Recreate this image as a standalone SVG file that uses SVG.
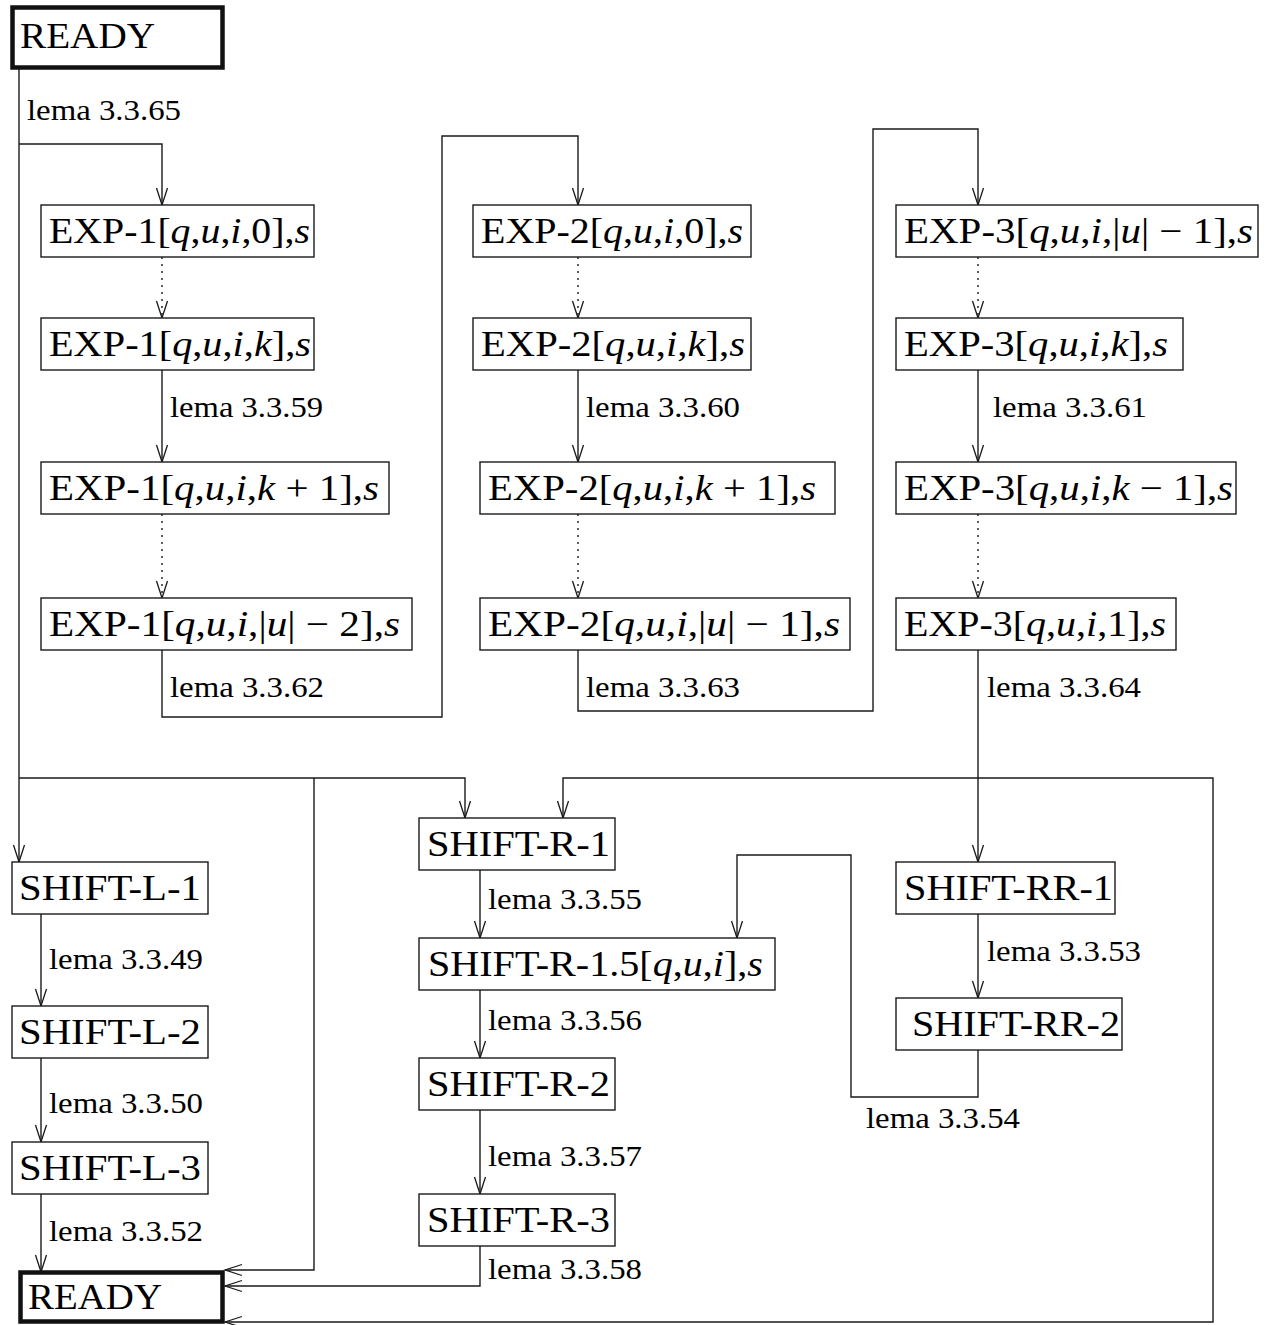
<svg xmlns="http://www.w3.org/2000/svg" width="1269" height="1325" viewBox="0 0 1269 1325">
  <style>
    .bg { fill: #ffffff; }
    .box { fill: #ffffff; stroke: #1a1a1a; stroke-width: 1.4; }
    .ready { fill: #ffffff; stroke: #111111; stroke-width: 4.5; }
    .node { font-family: "Liberation Serif", "DejaVu Serif", serif; font-size: 35px; fill: #000000; }
    .lbl { font-family: "Liberation Serif", "DejaVu Serif", serif; font-size: 29px; fill: #000000; }
    .m { font-style: italic; }
    .wire { fill: none; stroke: #1a1a1a; stroke-width: 1.4; }
    .dot { fill: none; stroke: #1a1a1a; stroke-width: 1.4; stroke-dasharray: 2 5; }
  </style>
  <defs>
    <marker id="arr" viewBox="-18 -7 20 14" markerWidth="20" markerHeight="14" refX="0" refY="0" orient="auto" markerUnits="userSpaceOnUse">
      <path d="M -17 -5.5 L 0 0 L -17 5.5" fill="none" stroke="#1a1a1a" stroke-width="1.3"/>
    </marker>
  </defs>
  <rect class="bg" x="0" y="0" width="1269" height="1325"/>

  <!-- connectors -->
  <g id="connectors">
    <!-- READY fan-out -->
    <path class="wire" d="M19 69 V862" marker-end="url(#arr)"/>
    <path class="wire" d="M19 144 H162 V205" marker-end="url(#arr)"/>
    <path class="wire" d="M19 778 H465 V818" marker-end="url(#arr)"/>
    <path class="wire" d="M314 778 V1270 H225" marker-end="url(#arr)"/>

    <!-- EXP-1 column -->
    <path class="dot" d="M162 257 V318" marker-end="url(#arr)"/>
    <path class="wire" d="M162 370 V462" marker-end="url(#arr)"/>
    <path class="dot" d="M162 514 V598" marker-end="url(#arr)"/>
    <path class="wire" d="M162 650 V717 H442 V136 H578 V205" marker-end="url(#arr)"/>

    <!-- EXP-2 column -->
    <path class="dot" d="M578 257 V318" marker-end="url(#arr)"/>
    <path class="wire" d="M578 370 V462" marker-end="url(#arr)"/>
    <path class="dot" d="M578 514 V598" marker-end="url(#arr)"/>
    <path class="wire" d="M578 650 V711 H873 V129 H978 V205" marker-end="url(#arr)"/>

    <!-- EXP-3 column -->
    <path class="dot" d="M978 257 V318" marker-end="url(#arr)"/>
    <path class="wire" d="M978 370 V462" marker-end="url(#arr)"/>
    <path class="dot" d="M978 514 V598" marker-end="url(#arr)"/>
    <path class="wire" d="M978 650 V862" marker-end="url(#arr)"/>
    <path class="wire" d="M978 778 H563 V818" marker-end="url(#arr)"/>
    <path class="wire" d="M978 778 H1213 V1322 H225" marker-end="url(#arr)"/>

    <!-- SHIFT-L column -->
    <path class="wire" d="M41 914 V1006" marker-end="url(#arr)"/>
    <path class="wire" d="M41 1058 V1142" marker-end="url(#arr)"/>
    <path class="wire" d="M41 1194 V1272" marker-end="url(#arr)"/>

    <!-- SHIFT-R column -->
    <path class="wire" d="M480 870 V938" marker-end="url(#arr)"/>
    <path class="wire" d="M480 990 V1058" marker-end="url(#arr)"/>
    <path class="wire" d="M480 1110 V1194" marker-end="url(#arr)"/>
    <path class="wire" d="M480 1246 V1286 H225" marker-end="url(#arr)"/>

    <!-- SHIFT-RR column -->
    <path class="wire" d="M978 914 V998" marker-end="url(#arr)"/>
    <path class="wire" d="M978 1050 V1097 H851 V855 H737 V938" marker-end="url(#arr)"/>

    <!-- transition labels -->
    <text class="lbl" x="27" y="120" textLength="154" lengthAdjust="spacingAndGlyphs">lema 3.3.65</text>
    <text class="lbl" x="170" y="417" textLength="153" lengthAdjust="spacingAndGlyphs">lema 3.3.59</text>
    <text class="lbl" x="170" y="697" textLength="154" lengthAdjust="spacingAndGlyphs">lema 3.3.62</text>
    <text class="lbl" x="586" y="417" textLength="154" lengthAdjust="spacingAndGlyphs">lema 3.3.60</text>
    <text class="lbl" x="586" y="697" textLength="154" lengthAdjust="spacingAndGlyphs">lema 3.3.63</text>
    <text class="lbl" x="993" y="417" textLength="154" lengthAdjust="spacingAndGlyphs">lema 3.3.61</text>
    <text class="lbl" x="987" y="697" textLength="154" lengthAdjust="spacingAndGlyphs">lema 3.3.64</text>
    <text class="lbl" x="49" y="969" textLength="154" lengthAdjust="spacingAndGlyphs">lema 3.3.49</text>
    <text class="lbl" x="49" y="1113" textLength="154" lengthAdjust="spacingAndGlyphs">lema 3.3.50</text>
    <text class="lbl" x="49" y="1241" textLength="154" lengthAdjust="spacingAndGlyphs">lema 3.3.52</text>
    <text class="lbl" x="488" y="909" textLength="154" lengthAdjust="spacingAndGlyphs">lema 3.3.55</text>
    <text class="lbl" x="488" y="1030" textLength="154" lengthAdjust="spacingAndGlyphs">lema 3.3.56</text>
    <text class="lbl" x="488" y="1166" textLength="154" lengthAdjust="spacingAndGlyphs">lema 3.3.57</text>
    <text class="lbl" x="488" y="1279" textLength="154" lengthAdjust="spacingAndGlyphs">lema 3.3.58</text>
    <text class="lbl" x="987" y="961" textLength="154" lengthAdjust="spacingAndGlyphs">lema 3.3.53</text>
    <text class="lbl" x="866" y="1128" textLength="154" lengthAdjust="spacingAndGlyphs">lema 3.3.54</text>
  </g>

  <!-- start state -->
  <g id="ready-start">
    <rect class="ready" x="12.5" y="7.5" width="210" height="60"/>
    <text class="node" x="20" y="48" textLength="135" lengthAdjust="spacingAndGlyphs">READY</text>
  </g>

  <!-- EXP-1 states -->
  <g id="exp1-0">
    <rect class="box" x="41" y="205" width="273" height="52"/>
    <text class="node" x="49" y="243" textLength="261" lengthAdjust="spacingAndGlyphs">EXP-1[<tspan class="m">q</tspan>,<tspan class="m">u</tspan>,<tspan class="m">i</tspan>,0],<tspan class="m">s</tspan></text>
  </g>
  <g id="exp1-k">
    <rect class="box" x="41" y="318" width="273" height="52"/>
    <text class="node" x="49" y="356" textLength="262" lengthAdjust="spacingAndGlyphs">EXP-1[<tspan class="m">q</tspan>,<tspan class="m">u</tspan>,<tspan class="m">i</tspan>,<tspan class="m">k</tspan>],<tspan class="m">s</tspan></text>
  </g>
  <g id="exp1-k1">
    <rect class="box" x="41" y="462" width="348" height="52"/>
    <text class="node" x="49" y="500" textLength="330" lengthAdjust="spacingAndGlyphs">EXP-1[<tspan class="m">q</tspan>,<tspan class="m">u</tspan>,<tspan class="m">i</tspan>,<tspan class="m">k</tspan> + 1],<tspan class="m">s</tspan></text>
  </g>
  <g id="exp1-last">
    <rect class="box" x="41" y="598" width="371" height="52"/>
    <text class="node" x="49" y="636" textLength="351" lengthAdjust="spacingAndGlyphs">EXP-1[<tspan class="m">q</tspan>,<tspan class="m">u</tspan>,<tspan class="m">i</tspan>,|<tspan class="m">u</tspan>| − 2],<tspan class="m">s</tspan></text>
  </g>

  <!-- EXP-2 states -->
  <g id="exp2-0">
    <rect class="box" x="473" y="205" width="278" height="52"/>
    <text class="node" x="481" y="243" textLength="262" lengthAdjust="spacingAndGlyphs">EXP-2[<tspan class="m">q</tspan>,<tspan class="m">u</tspan>,<tspan class="m">i</tspan>,0],<tspan class="m">s</tspan></text>
  </g>
  <g id="exp2-k">
    <rect class="box" x="473" y="318" width="278" height="52"/>
    <text class="node" x="481" y="356" textLength="264" lengthAdjust="spacingAndGlyphs">EXP-2[<tspan class="m">q</tspan>,<tspan class="m">u</tspan>,<tspan class="m">i</tspan>,<tspan class="m">k</tspan>],<tspan class="m">s</tspan></text>
  </g>
  <g id="exp2-k1">
    <rect class="box" x="480" y="462" width="355" height="52"/>
    <text class="node" x="488" y="500" textLength="328" lengthAdjust="spacingAndGlyphs">EXP-2[<tspan class="m">q</tspan>,<tspan class="m">u</tspan>,<tspan class="m">i</tspan>,<tspan class="m">k</tspan> + 1],<tspan class="m">s</tspan></text>
  </g>
  <g id="exp2-last">
    <rect class="box" x="480" y="598" width="370" height="52"/>
    <text class="node" x="488" y="636" textLength="352" lengthAdjust="spacingAndGlyphs">EXP-2[<tspan class="m">q</tspan>,<tspan class="m">u</tspan>,<tspan class="m">i</tspan>,|<tspan class="m">u</tspan>| − 1],<tspan class="m">s</tspan></text>
  </g>

  <!-- EXP-3 states -->
  <g id="exp3-0">
    <rect class="box" x="896" y="205" width="362" height="52"/>
    <text class="node" x="904" y="243" textLength="349" lengthAdjust="spacingAndGlyphs">EXP-3[<tspan class="m">q</tspan>,<tspan class="m">u</tspan>,<tspan class="m">i</tspan>,|<tspan class="m">u</tspan>| − 1],<tspan class="m">s</tspan></text>
  </g>
  <g id="exp3-k">
    <rect class="box" x="896" y="318" width="287" height="52"/>
    <text class="node" x="904" y="356" textLength="264" lengthAdjust="spacingAndGlyphs">EXP-3[<tspan class="m">q</tspan>,<tspan class="m">u</tspan>,<tspan class="m">i</tspan>,<tspan class="m">k</tspan>],<tspan class="m">s</tspan></text>
  </g>
  <g id="exp3-k1">
    <rect class="box" x="896" y="462" width="340" height="52"/>
    <text class="node" x="904" y="500" textLength="329" lengthAdjust="spacingAndGlyphs">EXP-3[<tspan class="m">q</tspan>,<tspan class="m">u</tspan>,<tspan class="m">i</tspan>,<tspan class="m">k</tspan> − 1],<tspan class="m">s</tspan></text>
  </g>
  <g id="exp3-1">
    <rect class="box" x="896" y="598" width="280" height="52"/>
    <text class="node" x="904" y="636" textLength="262" lengthAdjust="spacingAndGlyphs">EXP-3[<tspan class="m">q</tspan>,<tspan class="m">u</tspan>,<tspan class="m">i</tspan>,1],<tspan class="m">s</tspan></text>
  </g>

  <!-- SHIFT-L states -->
  <g id="shift-l-1">
    <rect class="box" x="12" y="862" width="196" height="52"/>
    <text class="node" x="19" y="900" textLength="182" lengthAdjust="spacingAndGlyphs">SHIFT-L-1</text>
  </g>
  <g id="shift-l-2">
    <rect class="box" x="12" y="1006" width="196" height="52"/>
    <text class="node" x="19" y="1044" textLength="182" lengthAdjust="spacingAndGlyphs">SHIFT-L-2</text>
  </g>
  <g id="shift-l-3">
    <rect class="box" x="12" y="1142" width="196" height="52"/>
    <text class="node" x="19" y="1180" textLength="182" lengthAdjust="spacingAndGlyphs">SHIFT-L-3</text>
  </g>

  <!-- SHIFT-R states -->
  <g id="shift-r-1">
    <rect class="box" x="419" y="818" width="196" height="52"/>
    <text class="node" x="427" y="856" textLength="183" lengthAdjust="spacingAndGlyphs">SHIFT-R-1</text>
  </g>
  <g id="shift-r-15">
    <rect class="box" x="419" y="938" width="356" height="52"/>
    <text class="node" x="428" y="976" textLength="335" lengthAdjust="spacingAndGlyphs">SHIFT-R-1.5[<tspan class="m">q</tspan>,<tspan class="m">u</tspan>,<tspan class="m">i</tspan>],<tspan class="m">s</tspan></text>
  </g>
  <g id="shift-r-2">
    <rect class="box" x="419" y="1058" width="196" height="52"/>
    <text class="node" x="427" y="1096" textLength="183" lengthAdjust="spacingAndGlyphs">SHIFT-R-2</text>
  </g>
  <g id="shift-r-3">
    <rect class="box" x="419" y="1194" width="196" height="52"/>
    <text class="node" x="427" y="1232" textLength="183" lengthAdjust="spacingAndGlyphs">SHIFT-R-3</text>
  </g>

  <!-- SHIFT-RR states -->
  <g id="shift-rr-1">
    <rect class="box" x="896" y="862" width="219" height="52"/>
    <text class="node" x="904" y="900" textLength="209" lengthAdjust="spacingAndGlyphs">SHIFT-RR-1</text>
  </g>
  <g id="shift-rr-2">
    <rect class="box" x="896" y="998" width="226" height="52"/>
    <text class="node" x="912" y="1036" textLength="208" lengthAdjust="spacingAndGlyphs">SHIFT-RR-2</text>
  </g>

  <!-- final state -->
  <g id="ready-end">
    <rect class="ready" x="20.5" y="1272.5" width="202" height="49"/>
    <text class="node" x="28" y="1309" textLength="134" lengthAdjust="spacingAndGlyphs">READY</text>
  </g>
</svg>
